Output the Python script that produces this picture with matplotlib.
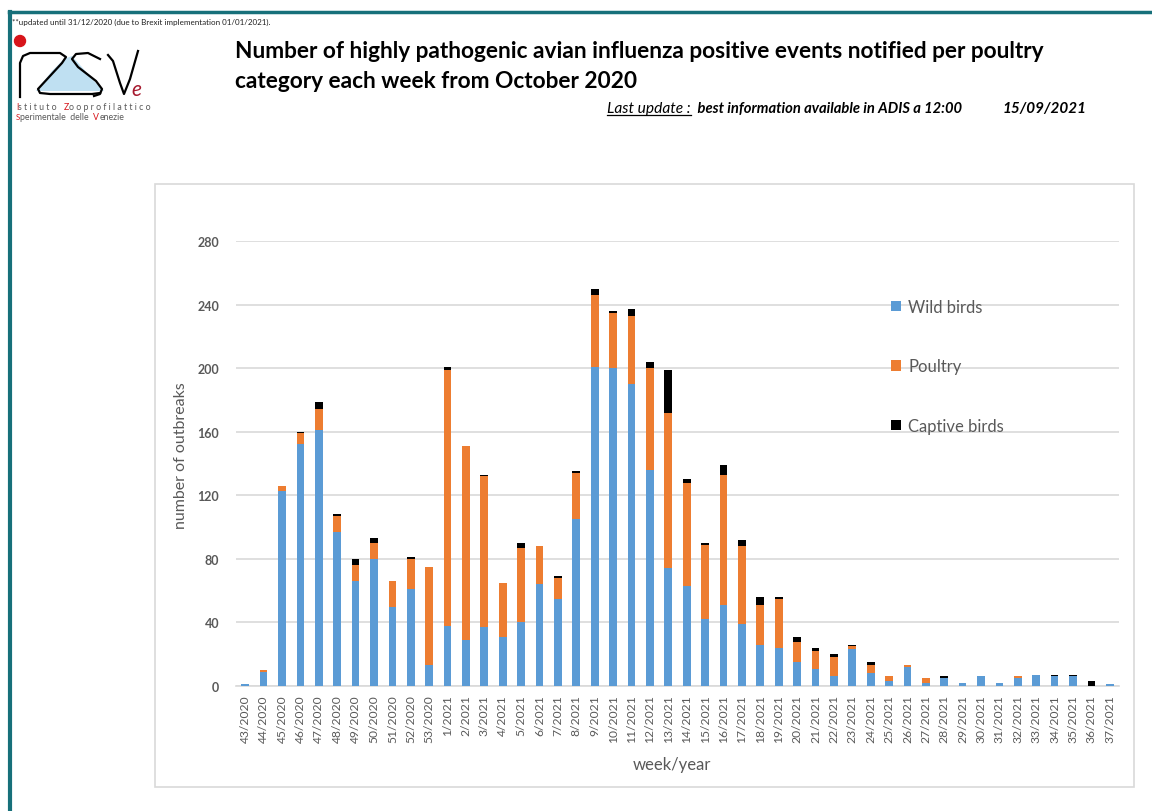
import matplotlib.pyplot as plt
import matplotlib.lines as lines
import matplotlib.patches as patches
import numpy as np

plt.rcParams['font.family'] = ['Lato', 'DejaVu Sans']

BLUE = '#5B9BD5'
ORANGE = '#ED7D31'
GREY = '#595959'
GRID = '#D9D9D9'

weeks = [f'{w}/2020' for w in range(43, 54)] + [f'{w}/2021' for w in range(1, 38)]

wild = [1, 9, 123, 152, 161, 97, 66, 80, 50, 61, 13,
        38, 29, 37, 31, 40, 64, 55, 105, 201, 200,
        190, 136, 74, 63, 42, 51, 39, 26, 24, 15,
        11, 6, 23, 8, 3, 12, 2, 5, 2, 6,
        2, 5, 7, 6, 6, 0, 1]
poultry = [0, 1, 3, 7, 13, 10, 10, 10, 16, 19, 62,
           161, 122, 95, 34, 47, 24, 13, 29, 45, 35,
           43, 64, 98, 65, 47, 82, 49, 25, 31, 13,
           11, 12, 2, 5, 3, 1, 3, 0, 0, 0,
           0, 1, 0, 0, 0, 0, 0]
captive = [0, 0, 0, 1, 5, 1, 4, 3, 0, 1, 0,
           2, 0, 1, 0, 3, 0, 1, 1, 4, 1,
           4, 4, 27, 2, 1, 6, 4, 5, 1, 3,
           2, 2, 1, 2, 0, 0, 0, 1, 0, 0,
           0, 0, 0, 1, 1, 3, 0]

series_names = ['Wild birds', 'Poultry', 'Captive birds']
yticks = [0, 40, 80, 120, 160, 200, 240, 280]

W, H = 1152, 812
fig = plt.figure(figsize=(W / 100, H / 100), dpi=100)


def fx(px):
    return px / W


def fy(py):
    return 1 - py / H


# outer teal frame + chart frame
fig.add_artist(lines.Line2D([fx(9), 1], [fy(13), fy(13)], color='#17707A', lw=2.5))
fig.add_artist(lines.Line2D([fx(10), fx(10)], [fy(13), 0], color='#17707A', lw=3))
fig.add_artist(patches.Rectangle((fx(155), fy(788)), fx(1134) - fx(155), fy(185) - fy(788),
                                 fill=False, edgecolor=GRID, lw=1.2))

# chart
ax = fig.add_axes([fx(236), fy(687), fx(1119) - fx(236), fy(242) - fy(687)])
x = np.arange(len(weeks))
wild_a = np.array(wild)
poul_a = np.array(poultry)
ax.bar(x, wild_a, 0.42, color=BLUE, label=series_names[0], zorder=3)
ax.bar(x, poul_a, 0.42, bottom=wild_a, color=ORANGE, label=series_names[1], zorder=3)
ax.bar(x, captive, 0.42, bottom=wild_a + poul_a, color='black', label=series_names[2], zorder=3)

ax.set_xlim(-0.5, len(weeks) - 0.5)
ax.set_ylim(0, 280)
ax.set_yticks(yticks)
ax.set_yticklabels([str(v) for v in yticks], fontsize=9, color=GREY, fontweight='bold')
ax.set_xticks(x)
ax.set_xticklabels(weeks, rotation=90, fontsize=8.7, color=GREY)
ax.tick_params(length=0, pad=6)
ax.tick_params(axis='y', pad=12)
ax.grid(axis='y', color=GRID, lw=1.2, zorder=0)
for s in ['top', 'right', 'left']:
    ax.spines[s].set_visible(False)
ax.spines['bottom'].set_color(GRID)
ax.spines['bottom'].set_linewidth(1.2)
ax.set_axisbelow(True)

leg = ax.legend(loc='upper left', bbox_to_anchor=(fx(876), fy(285)), bbox_transform=fig.transFigure,
                frameon=False, fontsize=12, labelcolor=GREY, handlelength=0.6, handleheight=0.6,
                handletextpad=0.45, labelspacing=2.6)

fig.text(fx(181), fy(456), 'number of outbreaks', rotation=90, ha='center', va='center',
         fontsize=11.5, color=GREY)
fig.text(fx(672), fy(765), 'week/year', ha='center', va='center', fontsize=12, color=GREY)

# titles
fig.text(fx(235), fy(51), 'Number of highly pathogenic avian influenza positive events notified per poultry',
         fontsize=16.3, fontweight='bold', va='center', color='black')
fig.text(fx(235), fy(81), 'category each week from October 2020',
         fontsize=16.3, fontweight='bold', va='center', color='black')

fig.text(fx(12), fy(22), '**updated until 31/12/2020 (due to Brexit implementation 01/01/2021).',
         fontsize=5.8, va='center', color='#202020')

renderer = fig.canvas.get_renderer()


def draw_pieces(x_px, y_px, pieces):
    cur = x_px
    spans = []
    for s, props in pieces:
        t = fig.text(fx(cur), fy(y_px), s, va='baseline', **props)
        bb = t.get_window_extent(renderer=renderer)
        spans.append((cur, cur + bb.width))
        cur += bb.width
    return spans


spans = draw_pieces(607, 113, [('Last update :', dict(fontsize=11.2, style='italic', color='black')),
                               ('  best information available in ADIS a 12:00',
                                dict(fontsize=10.6, style='italic', fontweight='bold', color='black'))])
fig.add_artist(lines.Line2D([fx(spans[0][0]), fx(spans[0][1])], [fy(116), fy(116)], color='black', lw=0.9))
fig.text(fx(1003), fy(113), '15/09/2021', fontsize=11, style='italic', fontweight='bold',
         va='baseline', color='black')

# logo
lax = fig.add_axes([fx(10), fy(125), fx(150) - fx(10), fy(30) - fy(125)])
lax.set_xlim(10, 150)
lax.set_ylim(125, 30)
lax.axis('off')
lax.add_patch(patches.Polygon([(36, 92), (52, 72), (64, 60), (72, 57), (80, 66), (96, 84),
                               (104, 92)], closed=True, color='#BFE0F2', lw=0))
lax.add_patch(patches.Circle((20, 42), 5.5, color='#D7141A'))
lax.plot([20, 20, 23, 30, 60, 66, 62, 38, 40, 50, 92, 100],
         [98, 64, 57, 54, 54, 58, 64, 90, 94, 95, 95, 94], color='black', lw=1.6)
lax.plot([100, 88, 76, 72, 78, 96, 102, 100, 94],
         [60, 54, 55, 60, 68, 82, 90, 95, 97], color='black', lw=1.6)
lax.plot([108, 113, 120, 124, 130, 138],
         [56, 62, 84, 95, 80, 52], color='black', lw=1.6)
lax.text(131, 96, 'e', fontsize=15, style='italic', color='#A6192E', va='baseline')

draw_pieces(16, 110, [('I', dict(fontsize=6.3, color='#D7141A')),
                      ('s t i t u t o   ', dict(fontsize=6.3, color=GREY)),
                      ('Z', dict(fontsize=6.3, color='#D7141A')),
                      ('o o p r o f i l a t t i c o', dict(fontsize=6.3, color=GREY))])
draw_pieces(16, 120, [('S', dict(fontsize=5.6, color='#D7141A')),
                      ('perimentale  delle  ', dict(fontsize=6.3, color=GREY)),
                      ('V', dict(fontsize=6.3, color='#D7141A')),
                      ('enezie', dict(fontsize=6.3, color=GREY))])

fig.savefig('out.png', dpi=100)
